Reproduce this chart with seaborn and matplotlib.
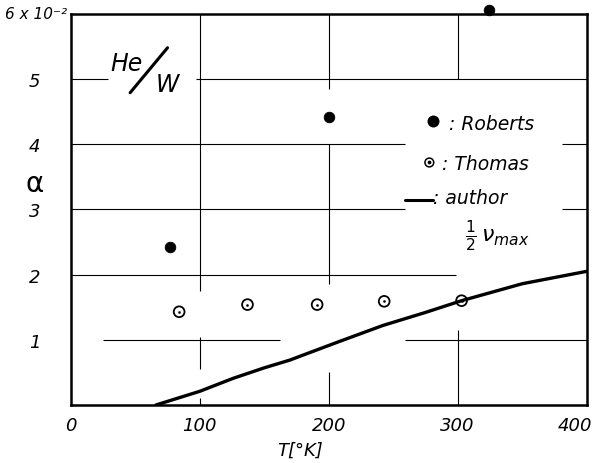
import matplotlib
matplotlib.use("Agg")
import matplotlib.pyplot as plt
import matplotlib.transforms as mtrans
import seaborn as sns
import pandas as pd

# ---- data ----
roberts_T = [77, 200, 324]
roberts_a = [2.42, 4.42, 6.06]
thomas_T = [84, 137, 191, 243, 303]
thomas_a = [1.43, 1.54, 1.54, 1.59, 1.60]
author_T = [66, 100, 126, 150, 170, 178, 209, 242, 275, 303, 350, 400]
author_a = [0.0, 0.21, 0.41, 0.57, 0.69, 0.75, 0.98, 1.22, 1.42, 1.60, 1.86, 2.05]
x_ticks = [0, 100, 200, 300, 400]
x_ticklabels = ["0", "100", "200", "300", "400"]
y_ticks = [1, 2, 3, 4, 5]
y_ticklabels = ["1", "2", "3", "4", "5"]
y_top_label = "6 x 10⁻²"

sns.set_style("white")
plt.rcParams['font.family'] = ['DejaVu Sans']
plt.rcParams['text.color'] = 'black'
plt.rcParams['xtick.color'] = 'black'
plt.rcParams['ytick.color'] = 'black'
plt.rcParams['axes.labelcolor'] = 'black'

fig = plt.figure(figsize=(5.95, 4.64), dpi=100)
ax = fig.add_axes([0.119, 0.125, 0.867, 0.843])

# partial grid segments
gl = dict(color="black", lw=0.8, zorder=1)
ax.vlines(100, 1.75, 6, **gl)
ax.vlines(100, 0.55, 1.05, **gl)
ax.vlines(100, 0, 0.1, **gl)
ax.vlines(200, 4.85, 6, **gl)
ax.vlines(200, 1.85, 4.0, **gl)
ax.vlines(200, 0, 0.5, **gl)
ax.vlines(300, 5.0, 6, **gl)
ax.vlines(300, 0, 1.15, **gl)
ax.hlines(5, 0, 29, **gl)
ax.hlines(5, 97, 400, **gl)
ax.hlines(4, 0, 259, **gl)
ax.hlines(4, 381, 400, **gl)
ax.hlines(3, 0, 259, **gl)
ax.hlines(3, 381, 400, **gl)
ax.hlines(2, 0, 299, **gl)
ax.hlines(1, 25, 162, **gl)
ax.hlines(1, 259, 400, **gl)

df_a = pd.DataFrame({"T": author_T, "a": author_a})
sns.lineplot(data=df_a, x="T", y="a", ax=ax, color="black", lw=2.4, zorder=3)

df_r = pd.DataFrame({"T": roberts_T, "a": roberts_a})
sns.scatterplot(data=df_r, x="T", y="a", ax=ax, color="black", s=58,
                edgecolor="black", zorder=4, clip_on=False)

df_t = pd.DataFrame({"T": thomas_T, "a": thomas_a})
sns.scatterplot(data=df_t, x="T", y="a", ax=ax, facecolor="none",
                edgecolor="black", linewidth=1.3, s=60, zorder=4)
sns.scatterplot(data=df_t, x="T", y="a", ax=ax, color="black", s=3,
                edgecolor="black", zorder=5)

ax.set_xlim(0, 400)
ax.set_ylim(0, 6)
ax.set_xticks(x_ticks)
ax.set_xticklabels(x_ticklabels, fontsize=13, style="italic")
ax.set_yticks(y_ticks)
ax.set_yticklabels(y_ticklabels, fontsize=13, style="italic")
ax.tick_params(length=0, pad=8)
ax.tick_params(axis="y", pad=22)
xl = ax.get_xticklabels()
xl[-1].set_transform(xl[-1].get_transform() +
                     mtrans.ScaledTranslation(-12 / 100, 0, fig.dpi_scale_trans))
ax.text(-2.5, 6.0, y_top_label, fontsize=11, style="italic", ha="right", va="center")
ax.set_xlabel("")
ax.set_ylabel("")
ax.text(178, -0.68, "T[°K]", fontsize=13, style="italic", ha="center", va="center")
for s in ax.spines.values():
    s.set_linewidth(1.8)
    s.set_color("black")

# y label alpha
ax.text(-28, 3.4, "α", fontsize=20, ha="center", va="center", clip_on=False)

# He/W label
ax.text(43, 5.24, "He", fontsize=17, style="italic", ha="center", va="center")
ax.plot([46, 75], [4.79, 5.48], color="black", lw=2.2)
ax.text(75, 4.92, "W", fontsize=17, style="italic", ha="center", va="center")

# legend
ax.scatter([281], [4.36], s=58, color="black", zorder=5)
ax.text(293, 4.32, ": Roberts", fontsize=13.5, style="italic", va="center")
ax.scatter([278], [3.72], s=40, facecolor="none", edgecolor="black", linewidth=1.1, zorder=5)
ax.scatter([278], [3.72], s=3, color="black", zorder=6)
ax.text(288, 3.70, ": Thomas", fontsize=13.5, style="italic", va="center")
ax.plot([259, 281], [3.14, 3.14], color="black", lw=2.2)
ax.text(281, 3.18, ": author", fontsize=13.5, style="italic", va="center")
ax.text(306, 2.62, r"$\frac{1}{2}\,\nu_{max}$", fontsize=16, va="center")

fig.savefig("out.png", dpi=100)
